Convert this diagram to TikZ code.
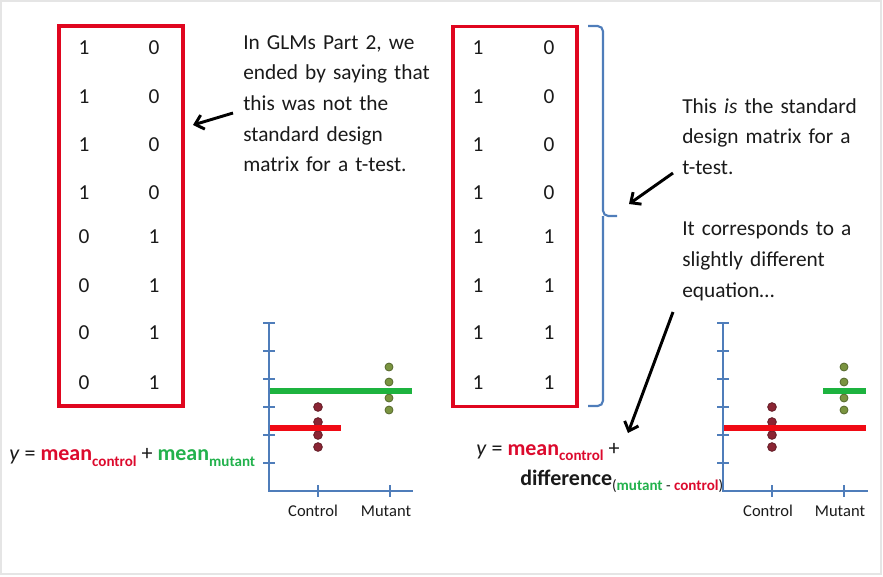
\documentclass[tikz,border=0pt]{standalone}
\usepackage{fontspec}
\setmainfont{Carlito}
\usetikzlibrary{arrows.meta}
\definecolor{boxred}{HTML}{E0061F}
\definecolor{eqred}{HTML}{DC0A2D}
\definecolor{eqgreen}{HTML}{22B14C}
\definecolor{linegreen}{HTML}{1DB33F}
\definecolor{linered}{HTML}{F00A14}
\definecolor{axisblue}{HTML}{4F7DBA}
\definecolor{dotred}{HTML}{8B2534}
\definecolor{dotgreen}{HTML}{7A9440}
\definecolor{txt}{HTML}{1A1A1A}
\newcommand{\subtxt}{\fontsize{11.3}{13}\selectfont}
\begin{document}
\begin{tikzpicture}[x=0.75pt,y=-0.75pt,
  mbox/.style={draw=boxred,line width=2.6pt,inner sep=0pt,minimum width=93pt,minimum height=285pt},
  entry/.style={font=\fontsize{16}{19}\selectfont,text=txt,inner sep=0pt},
  body/.style={font=\fontsize{16}{23}\selectfont,text=txt,inner sep=0pt,align=left,anchor=base west},
  eq/.style={font=\fontsize{16.5}{19}\selectfont,text=txt,inner sep=0pt,anchor=base west},
  lab/.style={font=\fontsize{12.4}{15}\selectfont,text=txt,inner sep=0pt,anchor=base},
  pointer/.style={line width=2.2pt,-{Straight Barb[length=6pt,width=11pt]}},
  axis/.style={draw=axisblue,line width=2pt},
  mline/.style={line width=4.5pt},
  rdot/.style={circle,fill=dotred,draw=dotred!70!black,line width=0.6pt,inner sep=0pt,minimum size=6.5pt},
  gdot/.style={circle,fill=dotgreen,draw=dotgreen!70!black,line width=0.6pt,inner sep=0pt,minimum size=6pt},
  brace/.style={draw=axisblue,line width=1.6pt,rounded corners=4pt}]
\useasboundingbox (0,0) rectangle (883,576);
\draw[gray!20,line width=0.8pt] (1,1) rectangle (881,574);

% left matrix
\node[mbox] (lbox) at (121,216) {};
\foreach \yy/\a/\b [count=\i] in {48/1/0,97/1/0,145/1/0,193/1/0,237/0/1,286/0/1,333/0/1,383/0/1}{
  \node[entry] (la\i) at (84,\yy) {\a};
  \node[entry] (lb\i) at (154,\yy) {\b};
}
% right matrix
\node[mbox] (rbox) at (515,216.5) {};
\foreach \yy/\a/\b [count=\i] in {48/1/0,97/1/0,145/1/0,193/1/0,237/1/1,286/1/1,333/1/1,383/1/1}{
  \node[entry] (ra\i) at (478,\yy) {\a};
  \node[entry] (rb\i) at (549,\yy) {\b};
}
% brace
\coordinate (btop) at (588,26);
\coordinate (bbot) at (588,406);
\coordinate (bmid) at (603,216);
\coordinate (btip) at (617,216);
\draw[brace] (btop) -| (bmid) -- (btip);
\draw[brace] (bbot) -| (bmid);

% texts
\node[body,text width=200pt] (ltext) at (243,49) {In GLMs Part 2, we\\ended by saying that\\this was not the\\standard design\\matrix for a t-test.};
\node[body,text width=200pt] (rtext) at (682,113) {This \textit{is} the standard\\design matrix for a\\t-test.\\[23pt]It corresponds to a\\slightly different\\equation\dots};

% arrows
\coordinate (a1t) at (233,113);
\coordinate (a1h) at (193,125);
\draw[pointer] (a1t) -- (a1h);
\coordinate (a2t) at (673,173);
\coordinate (a2h) at (629,204);
\draw[pointer] (a2t) -- (a2h);
\coordinate (a3t) at (673,312);
\coordinate (a3h) at (628,433);

% equations
\node[eq] (eqL) at (9,460) {\textit{y} = \textbf{\color{eqred}mean}\raisebox{-4.5pt}{\subtxt\bfseries\color{eqred}control} + \textbf{\color{eqgreen}mean}\raisebox{-4.5pt}{\subtxt\bfseries\color{eqgreen}mutant}};
\node[eq] (eqR1) at (476,455) {\textit{y} = \textbf{\color{eqred}mean}\raisebox{-4pt}{\subtxt\bfseries\color{eqred}control} +};
\node[eq] (eqR2) at (520,485) {\textbf{difference}\raisebox{-4pt}{\subtxt(\textbf{\color{eqgreen}mutant} - \textbf{\color{eqred}control})}};
\draw[pointer] (a3t) -- (a3h);

% left plot
\foreach \yy in {323,351,379,407,435,463} \draw[axis] (263,\yy) -- (275,\yy);
\draw[axis] (269,323) -- (269,491) -- (413,491);
\foreach \xx in {318,390} \draw[axis] (\xx,485) -- (\xx,497);
\node[lab] (lc) at (313,516) {Control};
\node[lab] (lm) at (386,516) {Mutant};
\foreach \yy [count=\i] in {407,422,435,447} \node[rdot] (lrd\i) at (318,\yy) {};
\foreach \yy [count=\i] in {367,382,398,410} \node[gdot] (lgd\i) at (389,\yy) {};
\draw[mline,linegreen] (270,391) -- (412,391);
\draw[mline,linered] (270,428) -- (341,428);

% right plot
\foreach \yy in {323,351,379,407,435,463} \draw[axis] (717,\yy) -- (729,\yy);
\draw[axis] (723,323) -- (723,491) -- (868,491);
\foreach \xx in {772,844} \draw[axis] (\xx,485) -- (\xx,497);
\node[lab] (rc) at (768,516) {Control};
\node[lab] (rm) at (840,516) {Mutant};
\foreach \yy [count=\i] in {407,422,435,447} \node[rdot] (rrd\i) at (772,\yy) {};
\foreach \yy [count=\i] in {367,382,398,410} \node[gdot] (rgd\i) at (844,\yy) {};
\draw[mline,linered] (724,428) -- (866,428);
\draw[mline,linegreen] (823,391) -- (866,391);
\end{tikzpicture}
\end{document}
